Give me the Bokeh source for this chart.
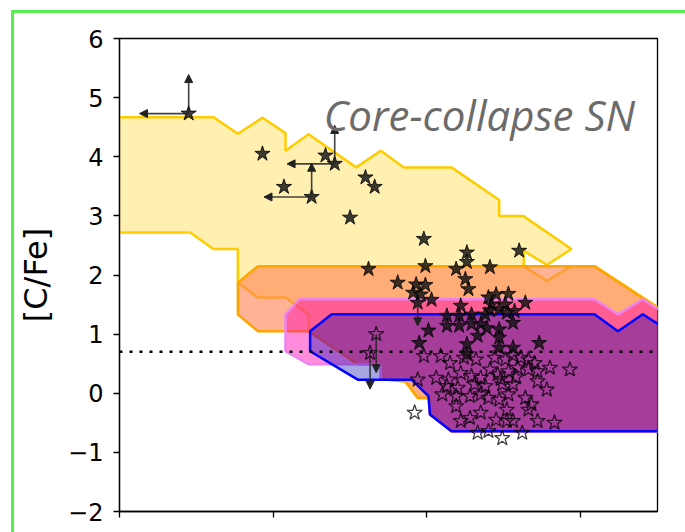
from bokeh.plotting import figure
from bokeh.models import (Range1d, ColumnDataSource, Arrow, NormalHead, Label,
                          Span, FixedTicker)
from bokeh.layouts import column
from bokeh.embed import file_html
from bokeh.resources import INLINE

# ---- model regions in the [Fe/H]-[C/Fe] plane ----
ccsn_x = [-7.2, -6.39, -6.23, -6.07, -5.92, -5.92, -5.77, -5.46, -5.30, -5.15, -4.84,
          -4.53, -4.53, -4.375, -4.06, -4.22, -4.37, -4.37, -4.22, -4.06, -3.91,
          -3.40, -3.40, -4.84, -4.98, -4.98, -5.06, -5.14, -5.30, -5.30, -5.45,
          -5.77, -5.77, -5.92, -6.10, -6.23, -6.23, -6.39, -6.54, -7.2]
ccsn_y = [4.67, 4.67, 4.39, 4.66, 4.40, 4.10, 4.38, 3.82, 4.10, 3.82, 3.82,
          3.27, 3.00, 3.00, 2.44, 2.17, 2.41, 2.15, 1.90, 2.15, 2.15,
          1.29, -0.644, -0.644, -0.36, -0.08, -0.08, 0.20, 0.24, 0.49, 0.49,
          1.05, 1.33, 1.62, 1.62, 1.87, 2.44, 2.44, 2.72, 2.72]

orange_x = [-6.23, -6.10, -3.91, -3.40, -3.40, -4.84, -4.98, -4.98, -5.06, -5.14,
            -5.30, -5.30, -5.45, -5.77, -5.93, -6.10, -6.23]
orange_y = [1.87, 2.15, 2.15, 1.27, -0.644, -0.644, -0.36, -0.08, -0.08, 0.20,
            0.24, 0.49, 0.49, 1.05, 1.05, 1.05, 1.33]

pink_x = [-5.92, -5.83, -3.91, -3.757, -3.596, -3.40, -3.40, -4.84, -4.98, -4.99,
          -5.10, -5.30, -5.30, -5.77, -5.92]
pink_y = [1.33, 1.59, 1.59, 1.335, 1.59, 1.26, -0.644, -0.644, -0.36, -0.05,
          0.23, 0.23, 0.49, 0.49, 0.71]

blue_x = [-5.76, -5.62, -3.91, -3.757, -3.596, -3.40, -3.40, -4.84, -4.98, -4.99,
          -5.10, -5.45, -5.76]
blue_y = [1.05, 1.335, 1.335, 1.05, 1.335, 1.01, -0.644, -0.644, -0.36, -0.05,
          0.23, 0.23, 0.71]

# ---- stars: measured abundances ----
filled_feh = [-6.55, -6.07, -5.66, -5.60, -5.93, -5.75, -5.40, -5.34, -5.50, -5.02,
              -5.01, -5.38, -5.19, -4.74, -4.74, -4.59, -4.40, -4.81, -4.75, -4.73,
              -5.07, -5.01, -5.09, -5.04, -4.97, -5.06, -4.60, -4.55, -4.47, -4.36,
              -4.58, -4.49, -4.78, -4.59, -4.53, -4.48, -4.43, -4.87, -4.79, -4.71,
              -4.62, -4.87, -4.79, -4.71, -4.65, -4.99, -4.67, -4.61, -4.53, -4.44,
              -5.05, -4.74, -4.53, -4.53, -4.44, -4.27, -4.74]
filled_cfe = [4.73, 4.05, 4.02, 3.88, 3.49, 3.32, 3.65, 3.49, 2.97, 2.61,
              2.15, 2.10, 1.87, 2.38, 2.22, 2.13, 2.41, 2.10, 1.93, 1.76,
              1.84, 1.83, 1.70, 1.67, 1.58, 1.53, 1.62, 1.67, 1.68, 1.53,
              1.50, 1.50, 1.48, 1.40, 1.42, 1.36, 1.39, 1.31, 1.31, 1.33,
              1.33, 1.14, 1.14, 1.17, 1.17, 1.06, 0.97, 1.10, 1.08, 1.19,
              0.85, 0.66, 0.94, 0.77, 0.77, 0.85, 0.83]

open_feh = [-5.33, -5.37, -5.02, -4.91, -4.85, -4.76, -4.68, -4.56, -4.49, -4.44,
            -4.39, -4.34, -4.30, -5.06, -4.94, -4.86, -4.78, -4.71, -4.65, -4.59,
            -4.54, -4.47, -4.41, -4.34, -4.28, -4.20, -4.07, -4.87, -4.80, -4.69,
            -4.62, -4.51, -4.44, -4.28, -4.22, -4.90, -4.81, -4.72, -4.65, -4.60,
            -4.53, -4.47, -4.36, -4.32, -5.08, -4.78, -4.72, -4.65, -4.55, -4.48,
            -4.48, -4.34, -4.28, -4.17, -4.67, -4.60, -4.51, -4.38, -4.52, -4.42,
            -4.81, -4.44]
open_cfe = [1.00, 0.68, 0.63, 0.63, 0.51, 0.60, 0.57, 0.60, 0.57, 0.64,
            0.60, 0.57, 0.51, 0.23, 0.26, 0.23, 0.34, 0.29, 0.26, 0.40,
            0.32, 0.37, 0.43, 0.40, 0.37, 0.43, 0.40, 0.12, 0.09, 0.15,
            0.12, 0.15, 0.15, 0.20, 0.06, -0.02, -0.05, -0.05, -0.02, -0.08,
            -0.11, -0.02, -0.08, -0.19, -0.33, -0.47, -0.42, -0.33, -0.45, -0.28,
            -0.47, -0.28, -0.47, -0.50, -0.67, -0.64, -0.76, -0.67, 0.24, 0.27,
            -0.22, -0.47]

# limits: start point and arrow tip
lim_x0 = [-6.55, -6.55, -5.75, -5.75, -5.60, -5.60, -5.06, -5.33, -5.37]
lim_y0 = [4.73, 4.73, 3.32, 3.32, 3.88, 3.88, 1.53, 1.00, 0.68]
lim_x1 = [-6.87, -6.55, -6.06, -5.75, -5.91, -5.60, -5.06, -5.33, -5.37]
lim_y1 = [4.73, 5.39, 3.32, 3.89, 3.88, 4.53, 1.14, 0.35, 0.07]

cemp_limit = 0.7
y_ticks = [-2, -1, 0, 1, 2, 3, 4, 5, 6]
x_ticks = [-7, -6, -5, -4]

p = figure(width=671, height=519, output_backend="svg", toolbar_location=None,
           x_range=Range1d(-7.0, -3.5), y_range=Range1d(-2, 6),
           min_border_left=104, min_border_right=28, min_border_top=25,
           min_border_bottom=21)
p.background_fill_color = "white"
p.border_fill_color = "white"
p.grid.visible = False
p.outline_line_color = "black"
p.outline_line_width = 1.3

p.patch(ccsn_x, ccsn_y, fill_color="#ffcc00", fill_alpha=0.3,
        line_color="#ffcc00", line_width=2.5)
p.patch(orange_x, orange_y, fill_color="#ff7f50", fill_alpha=0.6,
        line_color="#ffa500", line_width=2.5)
p.patch(pink_x, pink_y, fill_color="#ff00b4", fill_alpha=0.45,
        line_color="#ee82ee", line_width=2.5)
p.patch(blue_x, blue_y, fill_color="#0000ac", fill_alpha=0.35,
        line_color="#0000ff", line_width=2.5)

p.add_layout(Span(location=cemp_limit, dimension="width", line_color="black",
                  line_dash="3 7", line_width=2.5))

src = ColumnDataSource(dict(x0=lim_x0, y0=lim_y0, x1=lim_x1, y1=lim_y1))
p.add_layout(Arrow(source=src, x_start="x0", y_start="y0", x_end="x1", y_end="y1",
                   line_color="#222222", line_width=1.6, line_alpha=0.85,
                   end=NormalHead(size=8, fill_color="#222222", line_color="#222222")))

p.scatter(open_feh, open_cfe, marker="star", size=16, fill_color=None,
          line_color="black", line_alpha=0.75, line_width=1.3)
p.scatter(filled_feh, filled_cfe, marker="star", size=16, fill_color="#111111",
          fill_alpha=0.82, line_color="black", line_alpha=0.8, line_width=1)

p.add_layout(Label(x=-5.672, y=4.72, text="Core-collapse SN", text_font="Open Sans",
                   text_font_style="italic", text_font_size="42px",
                   text_baseline="alphabetic", text_color="#6b6b6b"))

p.yaxis.ticker = FixedTicker(ticks=y_ticks)
p.yaxis.major_label_overrides = {t: (str(t).replace("-", "\u2212")) for t in y_ticks}
p.xaxis.ticker = FixedTicker(ticks=x_ticks)
p.xaxis.major_label_overrides = {t: "" for t in x_ticks}
for ax in (p.xaxis[0], p.yaxis[0]):
    ax.axis_line_width = 1.3
    ax.major_tick_line_width = 1.3
    ax.major_tick_out = 6
    ax.major_tick_in = 0
    ax.minor_tick_line_color = None
    ax.major_label_text_font = "DejaVu Sans"
    ax.major_label_text_color = "black"
p.yaxis.major_label_text_font_size = "24px"
p.yaxis.major_label_standoff = 10
p.yaxis.axis_label = "[C/Fe]"
p.yaxis.axis_label_text_font = "DejaVu Sans"
p.yaxis.axis_label_text_font_style = "normal"
p.yaxis.axis_label_text_font_size = "32px"
p.yaxis.axis_label_text_color = "black"
p.yaxis.axis_label_standoff = 10

layout = column(p, styles={"margin-top": "10px", "margin-left": "11px",
                           "border-top": "3px solid #55ee4f",
                           "border-left": "3px solid #55ee4f"})

open("out.html", "w").write(file_html(layout, INLINE))
